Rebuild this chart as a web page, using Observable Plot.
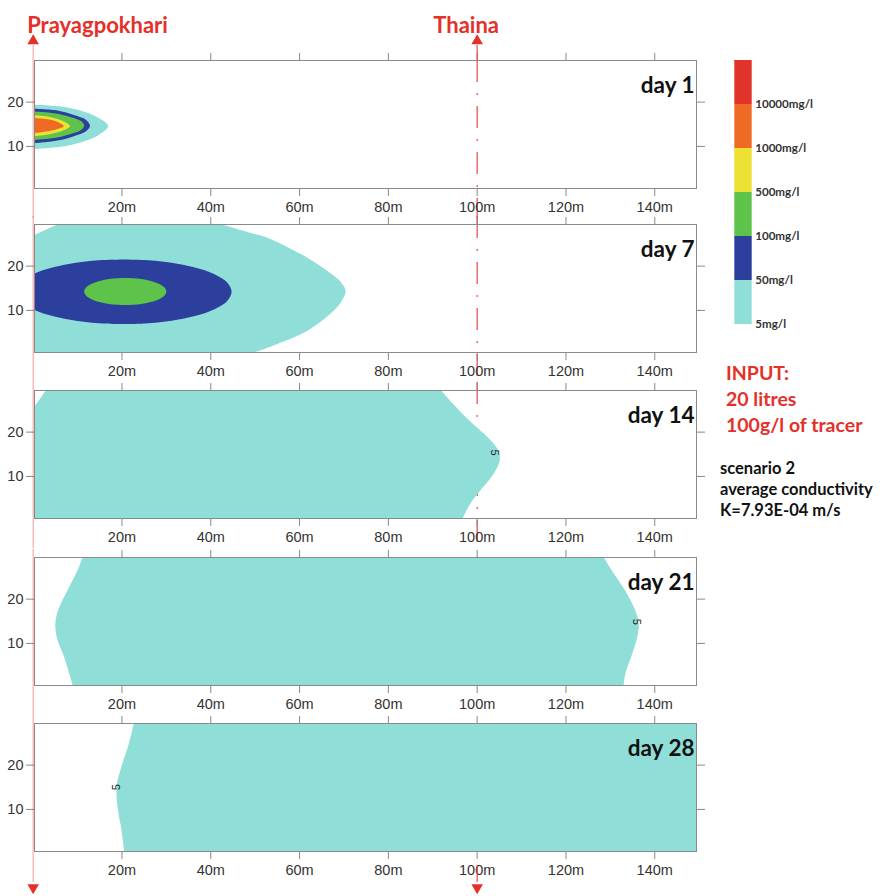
<!DOCTYPE html>
<html><head><meta charset="utf-8">
<script src="https://cdn.jsdelivr.net/npm/d3@7"></script>
<script src="https://cdn.jsdelivr.net/npm/@observablehq/plot@0.6"></script>
<style>
html,body{margin:0;padding:0;background:#fff;overflow:hidden;}
#root{position:relative;width:884px;height:896px;overflow:hidden;}
.panel{position:absolute;left:0;}
.note{position:absolute;font-family:Lato,"Open Sans",sans-serif;font-weight:700;white-space:nowrap;}
</style></head><body><div id="root"></div>
<script>
// ---------- data ----------
const siteNames = ["Prayagpokhari", "Thaina"];
const siteX = [0, 100];
const days = [1, 7, 14, 21, 28];
const dayLabels = ["day 1", "day 7", "day 14", "day 21", "day 28"];
const xTicks = [20, 40, 60, 80, 100, 120, 140];
const yTicks = [10, 20];
const legendLabels = ["5mg/l", "50mg/l", "100mg/l", "500mg/l", "1000mg/l", "10000mg/l"];
const legendColors = ["#8fdfd8", "#2c3f9c", "#5ec34b", "#ede234", "#ef6a24", "#e0332a"];
const inputLines = ["INPUT:", "20 litres", "100g/l of tracer"];
const scenarioLines = ["scenario 2", "average conductivity", "K=7.93E-04 m/s"];

// contour bands: rows of [y, x left, x right] (metres)
const day1Level0 = [[9.3,-3,0.4],[9.8,-3,6.3],[10.8,-3,10.8],[12.3,-3,14.6],[14.5,-3,17.0],[16.5,-3,14.6],[18.0,-3,10.8],[18.9,-3,6.3],[19.3,-3,0.4]];
const day1Level1 = [[10.6,-3,0.4],[11.2,-3,5.6],[12.2,-3,9.3],[13.3,-3,12.0],[14.5,-3,12.9],[15.9,-3,12.0],[17.0,-3,9.3],[18.0,-3,5.6],[18.4,-3,0.4]];
const day1Level2 = [[11.4,-3,0.4],[11.8,-3,4.9],[12.7,-3,8.6],[13.6,-3,10.9],[14.5,-3,11.6],[15.6,-3,10.9],[16.5,-3,8.6],[17.4,-3,4.9],[17.8,-3,0.4]];
const day1Level3 = [[12.2,-3,0.4],[12.7,-3,4.1],[13.4,-3,6.7],[14.5,-3,8.4],[15.7,-3,6.7],[16.5,-3,4.1],[16.9,-3,0.4]];
const day1Level4 = [[12.9,-3,0.4],[13.3,-3,3.4],[13.8,-3,5.6],[14.5,-3,7.0],[15.4,-3,5.6],[16.0,-3,3.4],[16.3,-3,0.4]];
const day7Level0 = [[-1,-3,46],[0.1,-3,49.1],[2.3,-3,55.1],[5.3,-3,61.9],[9.8,-3,67.8],[12.2,-3,69.7],[14.3,-3,70.5],[16.4,-3,69.3],[18.1,-3,67.3],[20.4,-3,64.0],[22.6,-3,60.4],[26.3,-1.2,52.9],[27.1,0.7,50.2],[28.4,3.5,45.7],[29.6,6.3,41.6],[31,9.5,37]];
const day7Level1 = [[6.8,20.5,20.5],[6.95,15.7,25.3],[7.4,11.0,30.0],[8.3,5.9,35.1],[9.7,1.1,39.9],[11.9,-2.7,43.7],[14.1,-3.8,44.8],[16.3,-2.7,43.7],[18.5,1.1,39.9],[19.9,5.9,35.1],[20.8,11.0,30.0],[21.25,15.7,25.3],[21.4,20.5,20.5]];
const day7Level2 = [[11.1,20.85,20.85],[11.16,19.0,22.7],[11.34,17.2,24.5],[11.71,15.3,26.4],[12.32,13.45,28.25],[13.24,12.0,29.7],[14.15,11.6,30.1],[15.07,12.0,29.7],[15.98,13.45,28.25],[16.59,15.3,26.4],[16.96,17.2,24.5],[17.14,19.0,22.7],[17.2,20.85,20.85]];
const day14Level0 = [[-1,-3,96.5],[0.45,-3,96.9],[3.8,-3,98.6],[6.8,-3,100.9],[9.2,-3,102.9],[11.3,-3,104.3],[13.4,-3,105.2],[15.4,-3,105.0],[17.2,-3,103.9],[18.8,-3,102.4],[22.6,-3,98.2],[25.6,0.3,95.3],[29.4,3.0,91.9],[31,4.3,90.6]];
const day21Level0 = [[-1,9.2,133.0],[0.44,9.0,133.1],[3.1,8.2,133.5],[6.8,7.1,134.8],[10.6,5.6,136.0],[12.5,5.2,136.4],[14.4,5.1,136.5],[16.3,5.4,136.1],[18.1,6.0,135.4],[21.9,7.85,133.4],[26.4,10.1,130.4],[29.4,11.2,128.6],[31,11.6,127.8]];
const day28Level0 = [[-1,20.7,155],[0.4,20.6,155],[5.3,20.0,155],[9.8,19.2,155],[15.1,18.9,155],[19.6,20.0,155],[24.9,21.7,155],[29.4,22.8,155],[31,23.2,155]];

const contourLabelDays = [14, 21, 28];
const contourLabelX = [103.8, 136.0, 18.7];
const contourLabelY = [15.4, 14.9, 15.0];
const contourLabelText = ["5", "5", "5"];

const markerDays = [14];
const markerX = [100];
const markerY1 = [12.0];
const markerY2 = [16.9];

// ---------- tables built from the arrays ----------
const sites = siteNames.map((name, i) => ({name, x: siteX[i]}));
const bands = [
  [1,0,day1Level0],[1,1,day1Level1],[1,2,day1Level2],[1,3,day1Level3],[1,4,day1Level4],
  [7,0,day7Level0],[7,1,day7Level1],[7,2,day7Level2],
  [14,0,day14Level0],[21,0,day21Level0],[28,0,day28Level0]
];
const contours = bands.flatMap(([day, level, rows]) => rows.map(([y, x1, x2]) => ({day, level, y, x1, x2})));
const contourLabels = contourLabelDays.map((day, i) => ({day, x: contourLabelX[i], y: contourLabelY[i], text: contourLabelText[i]}));
const markers = markerDays.map((day, i) => ({day, x: markerX[i], y1: markerY1[i], y2: markerY2[i]}));

// ---------- drawing ----------
const RED = "#e5302a";
const LINE_RED = "#e34a4a";
const FONT_C = "Lato, 'Open Sans', sans-serif";
const frameTops = [60, 224, 390, 557, 723];
const FRAME_H = 128;
const root = document.getElementById("root");

function panel(k) {
  const first = k === 0, last = k === days.length - 1;
  const mt = first ? 60 : 8, mb = last ? 45 : 30;
  const day = days[k];
  const thaina = sites.filter(s => s.name === "Thaina");
  const pray = sites.filter(s => s.name === "Prayagpokhari");
  const marks = [
    Plot.ruleX(thaina, {x: "x", stroke: LINE_RED, strokeWidth: 1.2, strokeDasharray: "22,11,2,11",
      insetTop: (k > 0 && k < 3) ? -mt : 0, insetBottom: k < 3 ? -mb : 0}),
    Plot.ruleX(markers.filter(d => d.day === day), {x: "x", y1: "y1", y2: "y2", stroke: "#777", strokeWidth: 1.2}),
    Plot.areaX(contours.filter(d => d.day === day), {y: "y", x1: "x1", x2: "x2", z: "level", fill: "level", curve: "catmull-rom", clip: true}),
    Plot.text(contourLabels.filter(d => d.day === day), {x: "x", y: "y", text: "text", rotate: day === 28 ? -90 : 90, fontSize: 11, fill: "#222"}),
    Plot.frame({stroke: "#8a8a8a"}),
    Plot.axisX({anchor: "bottom", ticks: xTicks, tickSize: 8, tickPadding: 5, tickFormat: d => `${d}m`, label: null, stroke: "#888", fill: "#333"}),
    Plot.axisX({anchor: "top", ticks: xTicks, tickSize: 8, tickFormat: () => "", label: null, stroke: "#888"}),
    Plot.axisY({anchor: "left", ticks: yTicks, tickSize: 8, tickPadding: 3, label: null, stroke: "#888", fill: "#333"}),
    Plot.axisY({anchor: "right", ticks: yTicks, tickSize: 8, tickFormat: () => "", label: null, stroke: "#888"}),
    Plot.ruleX(pray, {x: "x", stroke: LINE_RED, strokeOpacity: 0.55, strokeWidth: 1,
      insetTop: first ? -15 : -mt, insetBottom: last ? -31 : -mb}),
    Plot.text([dayLabels[k]], {text: d => d, frameAnchor: "top-right", dx: -2, dy: 17, textAnchor: "end",
      fontSize: 22.5, fontWeight: "bold", fontFamily: FONT_C, fill: "#111"})
  ];
  if (first) {
    marks.push(
      Plot.ruleX(thaina, {x: "x", stroke: LINE_RED, strokeWidth: 1.2, insetTop: -15, insetBottom: FRAME_H}),
      Plot.dot(sites, {x: "x", frameAnchor: "top", dy: -19.5, symbol: "triangle", r: 4.3, fill: RED, stroke: null}),
      Plot.text(pray, {x: "x", text: "name", frameAnchor: "top", dy: -43, dx: -6, textAnchor: "start",
        fill: RED, fontSize: 22, fontWeight: "bold", fontFamily: FONT_C}),
      Plot.text(thaina, {x: "x", text: "name", frameAnchor: "top", dy: -43, dx: -11, textAnchor: "middle",
        fill: RED, fontSize: 22, fontWeight: "bold", fontFamily: FONT_C})
    );
  }
  if (last) {
    marks.push(
      Plot.ruleX(thaina, {x: "x", stroke: LINE_RED, strokeWidth: 1.2, insetTop: FRAME_H + 14, insetBottom: -31}),
      Plot.dot(sites, {x: "x", frameAnchor: "bottom", dy: 36, symbol: "triangle", rotate: 180, r: 4.3, fill: RED, stroke: null})
    );
  }
  const svg = Plot.plot({
    width: 710, height: mt + FRAME_H + mb,
    marginLeft: 34, marginRight: 14, marginTop: mt, marginBottom: mb,
    x: {domain: [0.3, 149.4]},
    y: {domain: [0.5, 29.4]},
    color: {type: "ordinal", domain: [0, 1, 2, 3, 4, 5], range: legendColors},
    style: {fontFamily: "'Liberation Sans', Arial, sans-serif", fontSize: "14.5px", color: "#333", background: "transparent", overflow: "visible"},
    marks
  });
  const div = document.createElement("div");
  div.className = "panel";
  div.style.top = (frameTops[k] - mt) + "px";
  div.appendChild(svg);
  root.appendChild(div);
}
days.forEach((d, k) => panel(k));

// legend
const legendRows = legendColors.map((c, i) => ({i, label: legendLabels[i]}));
const legend = Plot.plot({
  width: 184, height: 290, margin: 0,
  x: {domain: [0, 1], range: [34.3, 51.7], axis: null},
  y: {domain: [0, 6], range: [274, 10], axis: null},
  color: {type: "ordinal", domain: [0, 1, 2, 3, 4, 5], range: legendColors},
  style: {background: "transparent", overflow: "visible"},
  marks: [
    Plot.rect(legendRows, {x1: 0, x2: 1, y1: "i", y2: d => d.i + 1, fill: "i"}),
    Plot.text(legendRows, {x: 1, y: "i", text: "label", dx: 3, textAnchor: "start",
      fontFamily: FONT_C, fontWeight: "bold", fontSize: 11.6, fill: "#333"})
  ]
});
const ldiv = document.createElement("div");
ldiv.className = "panel";
ldiv.style.left = "700px";
ldiv.style.top = "50px";
ldiv.appendChild(legend);
root.appendChild(ldiv);

// notes
function note(lines, left, top, size, lh, color) {
  const d = document.createElement("div");
  d.className = "note";
  Object.assign(d.style, {left: left + "px", top: top + "px", fontSize: size + "px", lineHeight: lh + "px", color});
  lines.forEach(t => { const s = document.createElement("div"); s.textContent = t; d.appendChild(s); });
  root.appendChild(d);
}
note(inputLines, 726, 360, 19.5, 26, RED);
note(scenarioLines, 720, 457.5, 16.5, 21, "#111");
</script></body></html>
